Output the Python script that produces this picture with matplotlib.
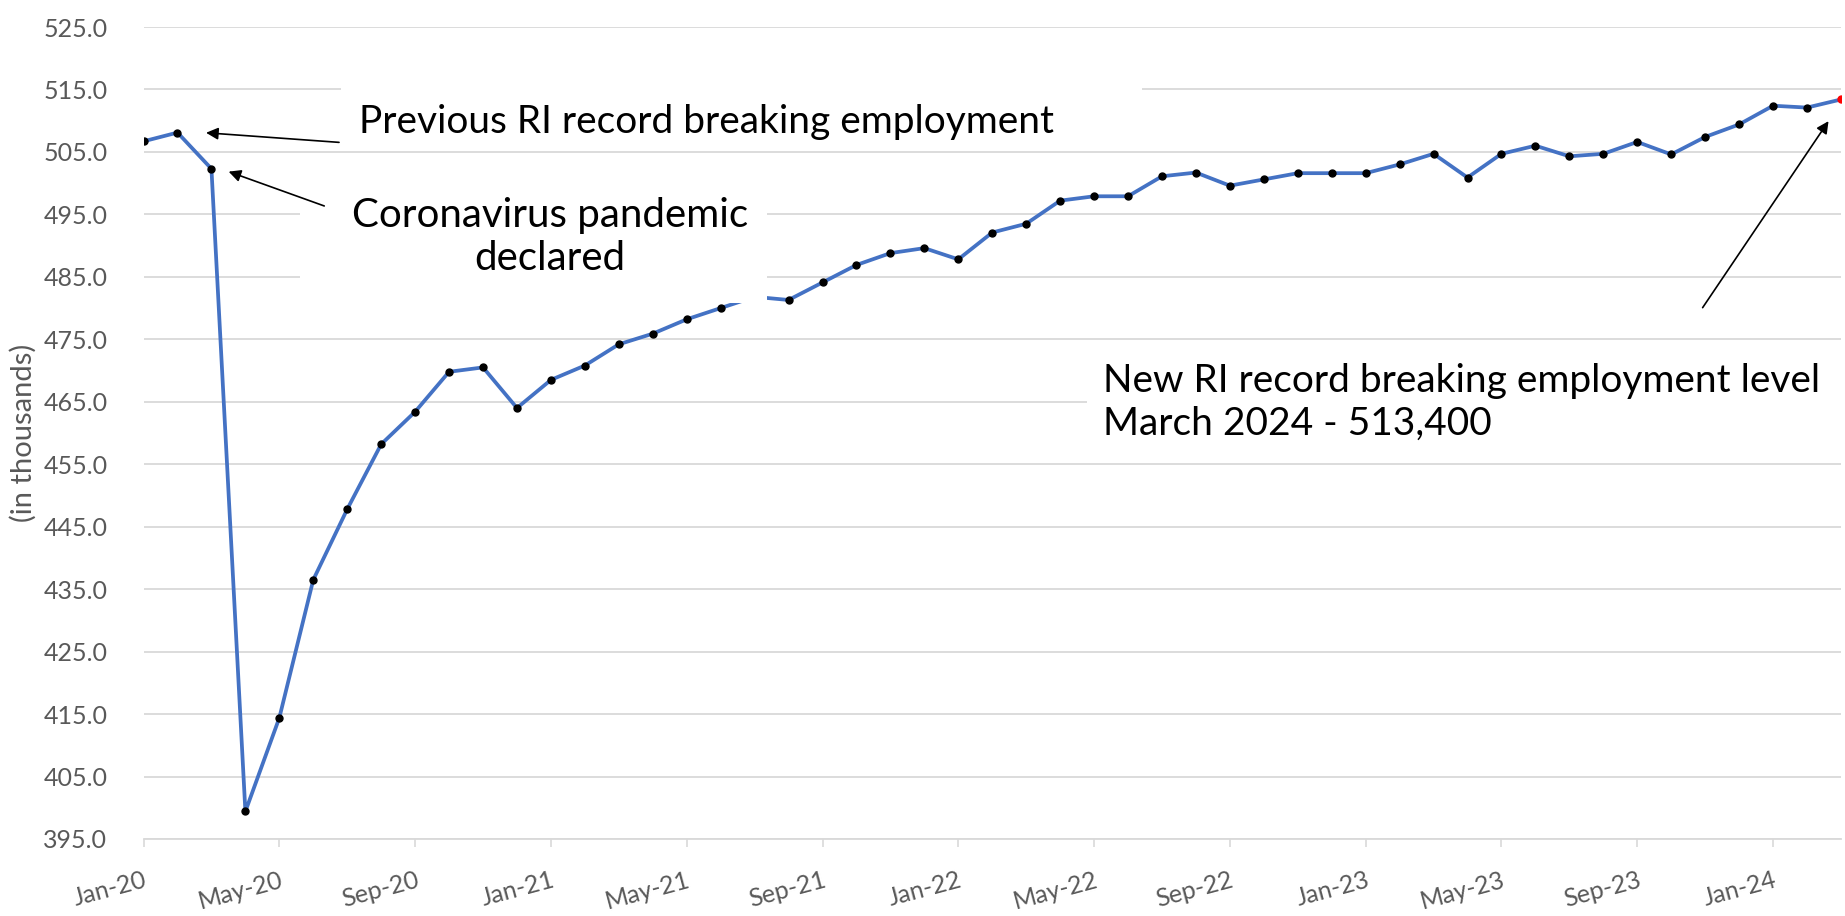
import matplotlib
matplotlib.use("Agg")
import matplotlib.pyplot as plt
from matplotlib.patches import Rectangle
import numpy as np
import pandas as pd

# RI employment, seasonally adjusted (in thousands), Jan-20 .. Mar-24
months = pd.date_range("2020-01-01", "2024-03-01", freq="MS")
employment = [
    506.7, 508.1, 502.3, 399.4, 414.4, 436.5, 447.8, 458.2, 463.4, 469.8, 470.5, 464.0,
    468.5, 470.8, 474.2, 475.9, 478.2, 480.0, 481.8, 481.3, 484.1, 486.9, 488.8, 489.6,
    487.8, 492.1, 493.5, 497.2, 497.9, 497.9, 501.1, 501.7, 499.6, 500.6, 501.6, 501.6,
    501.6, 503.0, 504.7, 500.9, 504.7, 506.0, 504.3, 504.7, 506.6, 504.6, 507.4, 509.4,
    512.4, 512.1, 513.4,
]
tick_every = 4
y_ticks = np.arange(395, 526, 10)

plt.rcParams['font.family'] = ['Lato', 'DejaVu Sans']

fig = plt.figure(figsize=(18.45, 9.16), dpi=100)
ax = fig.add_axes([0.0778, 0.0841, 0.9200, 0.8864])

x = np.arange(len(employment))
ax.plot(x, employment, color='#4472C4', lw=2.7, zorder=3)
ax.plot(x[:-1], employment[:-1], 'o', color='black', ms=5, zorder=4)
ax.plot(x[-1], employment[-1], 'o', color='red', ms=5, zorder=4)

ax.set_xlim(0, len(employment) - 1)
ax.set_ylim(395, 525)
ax.set_yticks(y_ticks)
ax.set_yticklabels([f"{v:.1f}" for v in y_ticks])
ax.set_xticks(x[::tick_every])
ax.set_xticklabels([d.strftime("%b-%y") for d in months[::tick_every]],
                   rotation=15, ha='right', rotation_mode='anchor')

ax.grid(axis='y', color='#d9d9d9', lw=1.3, zorder=0)
for s in ['top', 'right', 'left']:
    ax.spines[s].set_visible(False)
ax.spines['bottom'].set_color('#d9d9d9')
ax.spines['bottom'].set_linewidth(1.3)
ax.tick_params(axis='y', length=0, pad=26, labelsize=18, labelcolor='#595959')
ax.tick_params(axis='x', length=6, width=1.2, color='#d9d9d9', pad=15,
               labelsize=18, labelcolor='#595959')
ax.set_ylabel("(in thousands)", fontsize=21, color='#595959')
ax.yaxis.set_label_coords(-0.063, 0.5)

# white text boxes (as in the original, they cover gridlines)
for (x0, x1, y0, y1) in [(5.82, 29.4, 505.6, 515.7),
                         (4.61, 18.36, 480.8, 501.3),
                         (27.8, 50.5, 464.8, 472.0)]:
    ax.add_patch(Rectangle((x0, y0), x1 - x0, y1 - y0, facecolor='white',
                           edgecolor='none', zorder=5, clip_on=False))

ax.text(6.35, 509.8, "Previous RI record breaking employment", fontsize=28,
        ha='left', va='center', color='black', zorder=6)
ax.text(11.97, 491.4, "Coronavirus pandemic\ndeclared", fontsize=29,
        ha='center', va='center', multialignment='center', linespacing=1.2,
        color='black', zorder=6)
ax.text(28.25, 464.9, "New RI record breaking employment level\nMarch 2024 - 513,400",
        fontsize=28, ha='left', va='center', linespacing=1.2, color='black', zorder=6)

arrow = dict(arrowstyle='-|>', color='black', lw=1.2, mutation_scale=18)
ax.annotate("", xy=(1.76, 508.1), xytext=(5.84, 506.5), arrowprops=arrow, zorder=7)
ax.annotate("", xy=(2.43, 502.0), xytext=(5.40, 496.2), arrowprops=arrow, zorder=7)
ax.annotate("", xy=(49.68, 510.3), xytext=(45.88, 479.7), arrowprops=arrow, zorder=7)

fig.savefig("out.png", dpi=100, facecolor='white')
